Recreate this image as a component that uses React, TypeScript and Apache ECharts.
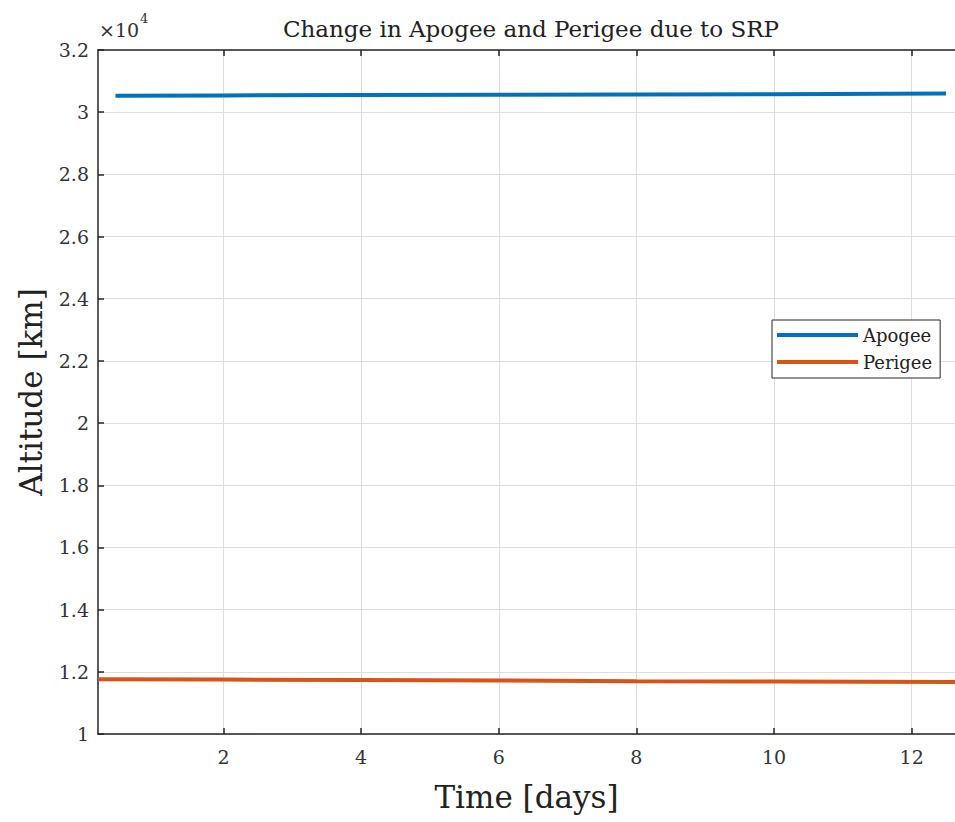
import React, { useEffect, useRef } from "react";
import * as echarts from "echarts";

const timeApogee = [0.43, 2, 4, 6, 8, 10, 12.5];
const apogee = [3.053, 3.054, 3.055, 3.056, 3.057, 3.058, 3.06];
const timePerigee = [0.18, 2, 4, 6, 8, 10, 12.63];
const perigee = [1.176, 1.175, 1.174, 1.172, 1.17, 1.169, 1.167];
const xTicks = [2, 4, 6, 8, 10, 12];
const title = "Change in Apogee and Perigee due to SRP";
const FONT = "DejaVu Serif";
const AX = "#262626";

export default function App() {
  const ref = useRef<HTMLDivElement>(null);
  useEffect(() => {
    if (!ref.current) return;
    const chart = echarts.init(ref.current, undefined, { renderer: "svg" });
    const mk = (t: number[], v: number[]) => t.map((x, i) => [x, v[i]]);
    chart.setOption({
      animation: false,
      backgroundColor: "#fff",
      title: {
        text: title,
        left: 526,
        textAlign: "center",
        top: 12,
        textStyle: { fontFamily: FONT, fontSize: 23, fontWeight: "normal", color: "#222" },
      },
      grid: { left: 98, right: 0, top: 50, bottom: 88 },
      legend: {
        orient: "vertical",
        left: 772,
        top: 320,
        backgroundColor: "#fff",
        borderColor: AX,
        borderWidth: 1,
        borderRadius: 0,
        padding: [6, 8, 7, 5],
        itemGap: 9,
        itemWidth: 81,
        itemHeight: 4,
        icon: "rect",
        textStyle: { fontFamily: FONT, fontSize: 18, color: "#222", padding: [0, 0, 0, 0] },
        data: ["Apogee", "Perigee"],
      },
      xAxis: [
        {
          type: "value",
          min: 0.176,
          max: 12.63,
          name: "Time [days]",
          nameLocation: "middle",
          nameGap: 47,
          nameTextStyle: { fontFamily: FONT, fontSize: 31, color: "#222" },
          axisLine: { show: true, lineStyle: { color: AX, width: 1.5 } },
          axisTick: { show: true, inside: true, length: 6, customValues: xTicks, lineStyle: { color: AX, width: 1.5 } },
          axisLabel: { customValues: xTicks, fontFamily: FONT, fontSize: 19, color: "#333", margin: 13 },
          splitLine: { show: true, lineStyle: { color: "#dedede", width: 1 } },
        },
        {
          type: "value",
          position: "top",
          min: 0.176,
          max: 12.63,
          axisLine: { show: true, lineStyle: { color: AX, width: 1.5 } },
          axisTick: { show: true, inside: true, length: 6, customValues: xTicks, lineStyle: { color: AX, width: 1.5 } },
          axisLabel: { show: false },
          splitLine: { show: false },
        },
      ],
      yAxis: {
        type: "value",
        min: 1,
        max: 3.2,
        interval: 0.2,
        name: "Altitude [km]",
        nameLocation: "middle",
        nameGap: 52,
        nameTextStyle: { fontFamily: FONT, fontSize: 31, color: "#222" },
        axisLine: { show: true, lineStyle: { color: AX, width: 1.5 } },
        axisTick: { show: true, inside: true, length: 6, lineStyle: { color: AX, width: 1.5 } },
        axisLabel: {
          fontFamily: FONT,
          fontSize: 19,
          color: "#333",
          margin: 9,
          formatter: (v: number) => String(Math.round(v * 10) / 10),
        },
        splitLine: { show: true, lineStyle: { color: "#dedede", width: 1 } },
      },
      graphic: [
        {
          type: "text",
          left: 99,
          top: 20,
          style: { text: "×10", fontFamily: FONT, fontSize: 19, fill: "#333" },
        },
        {
          type: "text",
          left: 140,
          top: 12,
          style: { text: "4", fontFamily: FONT, fontSize: 13, fill: "#333" },
        },
      ],
      series: [
        {
          name: "Apogee",
          type: "line",
          data: mk(timeApogee, apogee),
          showSymbol: false,
          symbol: "none",
          lineStyle: { color: "#0072BD", width: 4 },
          itemStyle: { color: "#0072BD" },
        },
        {
          name: "Perigee",
          type: "line",
          data: mk(timePerigee, perigee),
          showSymbol: false,
          symbol: "none",
          lineStyle: { color: "#D95319", width: 4 },
          itemStyle: { color: "#D95319" },
        },
      ],
    });
    return () => chart.dispose();
  }, []);
  return (
    <div style={{ position: "fixed", left: 0, top: 0, width: 955, height: 822, background: "#fff" }}>
      <div ref={ref} style={{ width: 955, height: 822 }} />
    </div>
  );
}
